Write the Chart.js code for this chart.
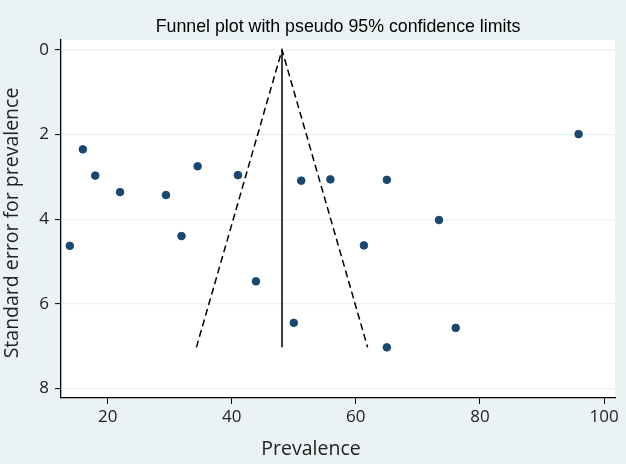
<!DOCTYPE html>
<html>
<head>
<meta charset="utf-8">
<script src="https://cdn.jsdelivr.net/npm/chart.js@4/dist/chart.umd.min.js"></script>
<style>
  html, body { margin: 0; padding: 0; background: #eaf2f3; }
  #wrap { width: 626px; height: 464px; }
</style>
</head>
<body>
<div id="wrap"><canvas id="c" width="626" height="464"></canvas></div>
<script>
// Study points: prevalence (x) and standard error (y)
const prevalence = [13.9, 16.0, 18.0, 22.0, 29.4, 31.9, 34.5, 41.0, 43.9, 50.0, 51.2, 55.9, 61.3, 65.0, 65.0, 73.4, 76.1, 95.9];
const stdError   = [4.63, 2.35, 2.97, 3.36, 3.43, 4.40, 2.75, 2.96, 5.47, 6.45, 3.09, 3.06, 4.62, 3.07, 7.03, 4.02, 6.57, 1.99];

// Pseudo 95% confidence limits (funnel) and pooled estimate line
const funnelX = [34.3, 48.1, 61.9];
const funnelY = [7.03, 0, 7.03];
const pooledX = [48.1, 48.1];
const pooledY = [0, 7.03];

// Axis ticks
const xTicks = [20, 40, 60, 80, 100];
const yTicks = [0, 2, 4, 6, 8];

const xTitle = 'Prevalence';
const yTitle = 'Standard error for prevalence';

const toPts = (xs, ys) => xs.map((x, i) => ({ x: x, y: ys[i] }));

const bgPlugin = {
  id: 'bg',
  beforeDraw(chart) {
    const { ctx, chartArea: a } = chart;
    ctx.save();
    ctx.fillStyle = '#eaf2f3';
    ctx.fillRect(0, 0, chart.width, chart.height);
    ctx.fillStyle = '#ffffff';
    ctx.fillRect(a.left, a.top, a.right - a.left, a.bottom - a.top);
    ctx.restore();
  }
};

const axisTitlePlugin = {
  id: 'axisTitles',
  afterDraw(chart) {
    const ctx = chart.ctx;
    ctx.save();
    ctx.fillStyle = '#222222';
    ctx.font = '19.5px "Open Sans", sans-serif';
    ctx.textAlign = 'center';
    ctx.textBaseline = 'middle';
    ctx.fillText(xTitle, 311, 449);
    ctx.translate(12, 223);
    ctx.rotate(-Math.PI / 2);
    ctx.fillText(yTitle, 0, 0);
    ctx.restore();
  }
};

const tickFont = { family: '"Open Sans", sans-serif', size: 17 };

new Chart(document.getElementById('c'), {
  type: 'scatter',
  data: {
    datasets: [
      {
        label: 'Studies',
        data: toPts(prevalence, stdError),
        backgroundColor: '#1a476f',
        borderColor: '#1a476f',
        pointRadius: 3.8,
        pointHoverRadius: 3.8,
        showLine: false,
        order: 0
      },
      {
        label: 'Pooled',
        data: toPts(pooledX, pooledY),
        showLine: true,
        borderColor: '#000000',
        borderWidth: 1.5,
        pointRadius: 0,
        fill: false,
        order: 1
      },
      {
        label: 'Limits',
        data: toPts(funnelX, funnelY),
        showLine: true,
        borderColor: '#000000',
        borderWidth: 1.5,
        borderDash: [7, 4],
        pointRadius: 0,
        fill: false,
        tension: 0,
        order: 2
      }
    ]
  },
  options: {
    responsive: false,
    animation: false,
    devicePixelRatio: 1,
    layout: { padding: { left: 0, right: 11, top: 0, bottom: 0 } },
    plugins: {
      legend: { display: false },
      tooltip: { enabled: false },
      title: {
        display: true,
        text: 'Funnel plot with pseudo 95% confidence limits',
        fullSize: false,
        color: '#000000',
        font: { family: '"Liberation Sans", Arial, sans-serif', size: 17.8, weight: 'normal' },
        padding: { top: 16.1, bottom: 2.5 }
      }
    },
    scales: {
      x: {
        type: 'linear',
        min: 12.48,
        max: 101.77,
        afterBuildTicks(scale) { scale.ticks = xTicks.map(v => ({ value: v })); },
        afterFit(scale) { scale.height = 66; },
        border: { display: true, color: '#000000', width: 1.3 },
        grid: { drawOnChartArea: false, drawTicks: true, tickLength: 6, tickColor: '#000000', tickWidth: 1 },
        ticks: { color: '#222222', font: tickFont, padding: 3, maxRotation: 0, autoSkip: false },
        title: { display: false }
      },
      y: {
        type: 'linear',
        reverse: true,
        min: -0.236,
        max: 8.227,
        afterBuildTicks(scale) { scale.ticks = yTicks.map(v => ({ value: v })); },
        afterFit(scale) { scale.width = 61; },
        border: { display: true, color: '#000000', width: 1.3 },
        grid: { drawOnChartArea: true, color: '#eaf2f3', lineWidth: 1.2, drawTicks: true, tickLength: 6, tickColor: '#000000', tickWidth: 1 },
        ticks: { color: '#222222', font: tickFont, padding: 6, autoSkip: false },
        title: { display: false }
      }
    }
  },
  plugins: [bgPlugin, axisTitlePlugin]
});
</script>
</body>
</html>
